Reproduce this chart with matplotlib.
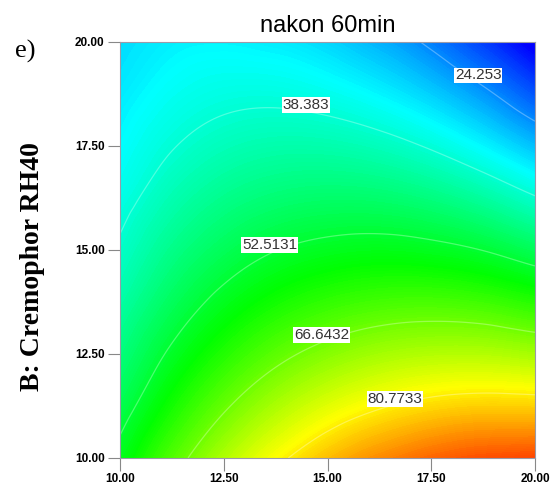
import numpy as np
import matplotlib
matplotlib.use("Agg")
from matplotlib import pyplot as plt
from matplotlib import tri
from matplotlib.colors import LinearSegmentedColormap, Normalize

# A: x axis, B: Cremophor RH40 (y axis), response on a 9x9 grid
a_vals = [10.0, 11.25, 12.5, 13.75, 15.0, 16.25, 17.5, 18.75, 20.0]
b_vals = [10.0, 11.25, 12.5, 13.75, 15.0, 16.25, 17.5, 18.75, 20.0]
# rows = b (bottom to top), cols = a (left to right)
response = [
    [54.5, 64.0, 72.3, 79.3, 85.1, 89.6, 92.9, 94.9, 95.7],
    [49.9, 58.5, 65.8, 71.9, 76.7, 80.2, 82.5, 83.5, 83.3],
    [45.9, 53.5, 59.8, 64.9, 68.7, 71.3, 72.6, 72.7, 71.5],
    [42.3, 48.9, 54.3, 58.4, 61.2, 62.8, 63.2, 62.3, 60.1],
    [39.2, 44.9, 49.2, 52.4, 54.2, 54.9, 54.2, 52.4, 49.2],
    [36.6, 41.3, 44.7, 46.8, 47.7, 47.4, 45.8, 42.9, 38.8],
    [34.5, 38.1, 40.6, 41.8, 41.7, 40.4, 37.8, 33.9, 28.9],
    [32.8, 35.5, 37.0, 37.2, 36.1, 33.8, 30.3, 25.5, 19.4],
    [31.6, 33.3, 33.8, 33.0, 31.0, 27.7, 23.2, 17.4, 10.4],
]
levels = [24.253, 38.383, 52.5131, 66.6432, 80.7733]
level_text = ["24.253", "38.383", "52.5131", "66.6432", "80.7733"]
ticks = [10.0, 12.5, 15.0, 17.5, 20.0]

# where the boxed labels sit on the plot
label_pos = [(18.63, 19.2), (14.48, 18.49), (13.61, 15.12), (14.86, 12.96), (16.63, 11.42)]

cmap = LinearSegmentedColormap.from_list(
    "de", ["#0000ff", "#00ffff", "#00ff00", "#ffff00", "#ff0000"])

fig = plt.figure(figsize=(5.51, 4.88), dpi=100)
ax = fig.add_axes([120 / 551, 30 / 488, 415 / 551, 416 / 488])

A, B = np.meshgrid(a_vals, b_vals)
z = np.array(response)
t = tri.Triangulation(A.ravel(), B.ravel())
interp = tri.CubicTriInterpolator(t, z.ravel(), kind="geom")
refiner = tri.UniformTriRefiner(t)
t_fine, z_fine = refiner.refine_field(z.ravel(), triinterpolator=interp, subdiv=4)

norm = Normalize(vmin=12, vmax=102, clip=True)
ax.tricontourf(t_fine, z_fine, levels=np.linspace(z_fine.min() - 1, z_fine.max() + 1, 200),
               cmap=cmap, norm=norm)
ax.tricontour(t_fine, z_fine, levels=levels, colors="white", linewidths=0.9, alpha=0.3)

for (x, y), s in zip(label_pos, level_text):
    ax.text(x, y, s, ha="center", va="center", fontsize=11, color="#333333",
            family="Liberation Sans",
            bbox=dict(facecolor="white", edgecolor="none", pad=0.6))

ax.set_xlim(10, 20)
ax.set_ylim(10, 20)
ax.set_xticks(ticks)
ax.set_yticks(ticks)
ax.set_xticklabels(["%.2f" % v for v in ticks])
ax.set_yticklabels(["%.2f" % v for v in ticks])
ax.tick_params(direction="out", length=9, width=0.8, color="#888888", pad=2,
               labelsize=8.5)
for lab in ax.get_xticklabels() + ax.get_yticklabels():
    lab.set_fontweight("bold")
    lab.set_family("Liberation Sans")
for sp in ax.spines.values():
    sp.set_color("#9a9aa8")
    sp.set_linewidth(0.8)

ax.set_title("nakon 60min", fontsize=17, pad=7, family="Liberation Sans")
fig.text(15 / 551, 1 - 51 / 488, "e)", fontsize=19, family="Liberation Serif",
         ha="left", va="center")
fig.text(33 / 551, 1 - 267 / 488, "B: Cremophor RH40", rotation=90, fontsize=20,
         family="Liberation Serif", fontweight="bold", ha="center", va="center")

fig.savefig("out.png", dpi=100)
